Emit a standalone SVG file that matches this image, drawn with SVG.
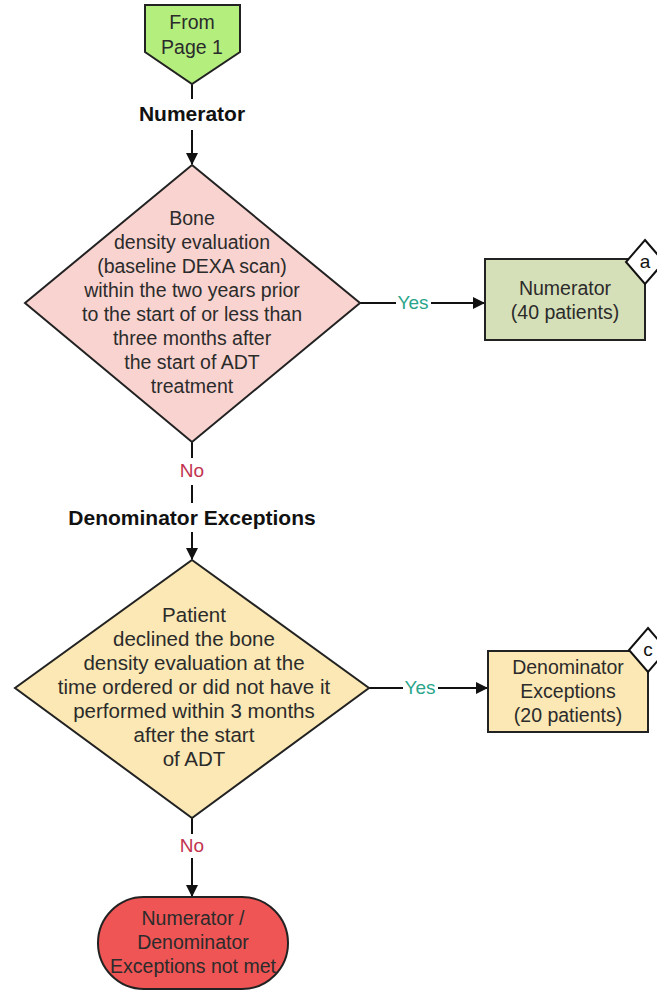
<svg xmlns="http://www.w3.org/2000/svg" width="657" height="991" viewBox="0 0 657 991">
<defs>
<marker id="arr" markerWidth="12" markerHeight="12" refX="11" refY="6" orient="auto" markerUnits="userSpaceOnUse">
<path d="M0,0 L12,6 L0,12 Z" fill="#111"/>
</marker>
<style>
text{font-family:"Liberation Sans",Arial,sans-serif;fill:#2b2b2b;text-anchor:middle}
.t{font-size:19.5px}
.t2{font-size:20.5px}
.b{font-size:21px;font-weight:bold;fill:#111}
.yes{font-size:19px;fill:#2aa58a}
.no{font-size:19px;fill:#c2334f}
.sh{stroke:#222;stroke-width:2}
.ln{stroke:#111;stroke-width:2;fill:none}
.tag{fill:#fff;stroke:#111;stroke-width:2}
.tt{font-size:19px;fill:#111}
</style>
</defs>
<g id="connectors">
<line class="ln" x1="192" y1="84" x2="192" y2="99"/>
<line class="ln" x1="192" y1="130" x2="192" y2="164" marker-end="url(#arr)"/>
<line class="ln" x1="360" y1="303" x2="396" y2="303"/>
<line class="ln" x1="431" y1="303" x2="484" y2="303" marker-end="url(#arr)"/>
<line class="ln" x1="192" y1="442" x2="192" y2="458"/>
<line class="ln" x1="192" y1="485" x2="192" y2="503"/>
<line class="ln" x1="192" y1="532" x2="192" y2="559" marker-end="url(#arr)"/>
<line class="ln" x1="369" y1="688" x2="403" y2="688"/>
<line class="ln" x1="438" y1="688" x2="487" y2="688" marker-end="url(#arr)"/>
<line class="ln" x1="192" y1="818" x2="192" y2="834"/>
<line class="ln" x1="192" y1="858" x2="192" y2="896" marker-end="url(#arr)"/>
<text class="yes" x="413" y="309">Yes</text>
<text class="yes" x="420" y="694">Yes</text>
<text class="no" x="192" y="477">No</text>
<text class="no" x="192" y="852">No</text>
</g>
<g id="from-page-1">
<polygon class="sh" points="145,5 240,5 240,52 192,84 145,52" fill="#b4ef7e"/>
<text class="t" x="192" y="29">From</text>
<text class="t" x="192" y="54">Page 1</text>
</g>
<g id="label-numerator">
<text class="b" x="192" y="121">Numerator</text>
</g>
<g id="decision-1">
<polygon class="sh" points="192,165 360,303 192,442 25,303" fill="#f9d3cf"/>
<text class="t" x="192" y="225">Bone</text>
<text class="t" x="192" y="249">density evaluation</text>
<text class="t" x="192" y="273">(baseline DEXA scan)</text>
<text class="t" x="192" y="297">within the two years prior</text>
<text class="t" x="192" y="321">to the start of or less than</text>
<text class="t" x="192" y="345">three months after</text>
<text class="t" x="192" y="369">the start of ADT</text>
<text class="t" x="192" y="393">treatment</text>
</g>
<g id="numerator-box">
<rect class="sh" x="485" y="259" width="160" height="81" fill="#d6e0b8"/>
<polygon class="tag" points="645,240 664,262 645,284 626,262"/>
<text class="tt" x="645" y="268">a</text>
<text class="t" x="565" y="295">Numerator</text>
<text class="t" x="565" y="319">(40 patients)</text>
</g>
<g id="label-denominator-exceptions">
<text class="b" x="192" y="525">Denominator Exceptions</text>
</g>
<g id="decision-2">
<polygon class="sh" points="192,560 369,688 192,818 15,688" fill="#fbe8b4"/>
<text class="t2" x="194" y="622">Patient</text>
<text class="t2" x="194" y="646">declined the bone</text>
<text class="t2" x="194" y="670">density evaluation at the</text>
<text class="t2" x="194" y="694">time ordered or did not have it</text>
<text class="t2" x="194" y="718">performed within 3 months</text>
<text class="t2" x="194" y="742">after the start</text>
<text class="t2" x="194" y="766">of ADT</text>
</g>
<g id="denominator-exceptions-box">
<rect class="sh" x="488" y="651" width="160" height="81" fill="#fbe8b4"/>
<polygon class="tag" points="648,628 667,650 648,672 629,650"/>
<text class="tt" x="648" y="656">c</text>
<text class="t" x="568" y="674">Denominator</text>
<text class="t" x="568" y="698">Exceptions</text>
<text class="t" x="568" y="722">(20 patients)</text>
</g>
<g id="not-met">
<rect class="sh" x="98" y="897" width="190" height="92" rx="46" ry="46" fill="#ef5555"/>
<text class="t" x="193" y="925">Numerator /</text>
<text class="t" x="193" y="949">Denominator</text>
<text class="t" x="193" y="973">Exceptions not met</text>
</g>
</svg>
